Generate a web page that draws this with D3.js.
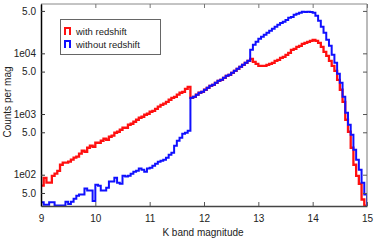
<!DOCTYPE html>
<html>
<head>
<meta charset="utf-8">
<script src="https://cdn.jsdelivr.net/npm/d3@7"></script>
<style>
  body { margin: 0; background: #fff; }
  text { font-family: "Liberation Sans", Arial, sans-serif; fill: #222; }
</style>
</head>
<body>
<div class="chart"></div>
<script>
var svgWidth = 374;
var svgHeight = 241;

var margin = { top: 4, right: 7, bottom: 35, left: 41 };
var width = svgWidth - margin.left - margin.right;
var height = svgHeight - margin.top - margin.bottom;

// histogram bins: 0.05 mag wide, starting at K = 9
var binStart = 9;
var binWidth = 0.05;

// counts per mag, with redshift
var withRedshift = [66, 89, 74, 74, 96, 104, 116, 146, 158, 158,
    164, 177, 191, 198, 222, 248, 239, 278, 300, 289,
    336, 336, 363, 391, 377, 422, 439, 491, 510, 551,
    594, 594, 665, 691, 746, 804, 868, 901, 972, 1010,
    1090, 1130, 1220, 1320, 1420, 1480, 1590, 1720, 1850, 1920,
    2080, 2240, 2320, 2600, 2810, 1850, 1920, 2080, 2240, 2320,
    2510, 2700, 2920, 3030, 3270, 3530, 3660, 3950, 4260, 4430,
    4780, 5150, 5560, 5990, 6470, 6980, 7520, 8120, 7250, 6720,
    6230, 6230, 6230, 6470, 6720, 6980, 7520, 7820, 8430, 8760,
    9450, 10190, 11420, 11860, 12790, 13290, 14340, 14890, 15470, 16060,
    16690, 16060, 14890, 12790, 10590, 9100, 7520, 6230, 5150, 3660,
    2510, 1590, 804, 510, 278, 146, 96, 71, 39, 31];

// counts per mag, without redshift
var withoutRedshift = [35, 32, 32, 35, 35, 31, 31, 31, 31, 36,
    33, 36, 40, 45, 47, 47, 59, 55, 55, 37,
    68, 66, 55, 55, 61, 77, 77, 89, 74, 71,
    96, 93, 96, 104, 112, 116, 126, 121, 112, 126,
    130, 141, 152, 164, 170, 177, 191, 213, 230, 300,
    363, 406, 473, 491, 530, 1850, 1920, 2080, 2240, 2320,
    2510, 2700, 2920, 3030, 3270, 3530, 3660, 3950, 4260, 4430,
    4780, 5150, 5560, 5990, 6470, 6980, 7520, 11420, 13800, 15470,
    17330, 18690, 20160, 21750, 23460, 25300, 27300, 29450, 31760, 32990,
    35590, 38400, 39880, 43030, 44690, 46420, 48220, 47800, 48500, 48000,
    46420, 41430, 34270, 27300, 21750, 16690, 13290, 9450, 6980, 4600,
    3270, 1920, 1050, 665, 455, 258, 177, 121, 74, 47];

var xTicks = [9, 10, 11, 12, 13, 14, 15];
var yTicks = [50, 100, 500, 1000, 5000, 10000, 50000];
var yTickLabels = ["5.0", "1e02", "5.0", "1e03", "5.0", "1e04", "5.0"];

var seriesNames = ["with redshift", "without redshift"];
var seriesColors = ["#ff1010", "#1010ff"];

var svg = d3.select(".chart")
    .append("svg")
    .attr("width", svgWidth)
    .attr("height", svgHeight);

var chartGroup = svg.append("g")
    .attr("transform", `translate(${margin.left}, ${margin.top})`);

var xScale = d3.scaleLinear()
    .domain([9, 15])
    .range([0, width]);

var yScale = d3.scaleLog()
    .domain([30.5, 65000])
    .range([height, 0]);

svg.append("defs").append("clipPath")
    .attr("id", "plotclip")
    .append("rect")
    .attr("x", 0)
    .attr("y", 0)
    .attr("width", width)
    .attr("height", height + 1);

function histPoints(counts) {
    var pts = counts.map(function(c, i) {
        return [binStart + i * binWidth, c];
    });
    pts.push([binStart + counts.length * binWidth, counts[counts.length - 1]]);
    pts.push([binStart + counts.length * binWidth, 1]);
    return pts;
}

var line = d3.line()
    .x(d => xScale(d[0]))
    .y(d => yScale(d[1]))
    .curve(d3.curveStepAfter);

var plot = chartGroup.append("g").attr("clip-path", "url(#plotclip)");

plot.append("path")
    .attr("d", line(histPoints(withRedshift)))
    .attr("fill", "none")
    .attr("stroke", seriesColors[0])
    .attr("stroke-width", 2.3);

plot.append("path")
    .attr("d", line(histPoints(withoutRedshift)))
    .attr("fill", "none")
    .attr("stroke", seriesColors[1])
    .attr("stroke-width", 2);

// frame
chartGroup.append("line")
    .attr("x1", 0).attr("x2", width).attr("y1", 0).attr("y2", 0)
    .attr("stroke", "#888").attr("stroke-width", 1);
chartGroup.append("line")
    .attr("x1", width).attr("x2", width).attr("y1", 0).attr("y2", height)
    .attr("stroke", "#777").attr("stroke-width", 1);

// bottom / top axes, ticks pointing inwards
var bottomAxis = d3.axisBottom(xScale).tickValues(xTicks).tickSizeInner(-4).tickSizeOuter(0).tickPadding(9)
    .tickFormat(d3.format("d"));
var topAxis = d3.axisTop(xScale).tickValues(xTicks).tickSize(-4).tickFormat("");
var leftAxis = d3.axisLeft(yScale).tickValues(yTicks).tickSizeInner(-4).tickSizeOuter(0).tickPadding(5)
    .tickFormat((d, i) => yTickLabels[i]);
var rightAxis = d3.axisRight(yScale).tickValues(yTicks).tickSize(-4).tickFormat("");

var gTop = chartGroup.append("g").call(topAxis);
gTop.select(".domain").remove();
gTop.selectAll(".tick line").attr("stroke", "#777");

var gRight = chartGroup.append("g")
    .attr("transform", `translate(${width}, 0)`)
    .call(rightAxis);
gRight.select(".domain").remove();
gRight.selectAll(".tick line").attr("stroke", "#555");

var gBottom = chartGroup.append("g")
    .attr("transform", `translate(0, ${height})`)
    .call(bottomAxis);
gBottom.select(".domain").attr("stroke", "#444").attr("stroke-width", 1.5);
gBottom.selectAll(".tick line").attr("stroke", "#555");
gBottom.selectAll("text").attr("font-size", "10px").attr("font-family", null);

var gLeft = chartGroup.append("g").call(leftAxis);
gLeft.select(".domain").attr("stroke", "#000").attr("stroke-width", 1.5);
gLeft.selectAll(".tick line").attr("stroke", "#333");
gLeft.selectAll("text").attr("font-size", "10px").attr("font-family", null);

// axis titles
svg.append("text")
    .attr("x", margin.left + width / 2 - 1)
    .attr("y", 236)
    .attr("text-anchor", "middle")
    .attr("font-size", "10px")
    .text("K band magnitude");

svg.append("text")
    .attr("transform", "translate(11, 102) rotate(-90)")
    .attr("text-anchor", "middle")
    .attr("font-size", "10px")
    .text("Counts per mag");

// legend
var legend = svg.append("g");
legend.append("rect")
    .attr("x", 60.5).attr("y", 19.5)
    .attr("width", 100).attr("height", 35)
    .attr("fill", "#fff")
    .attr("stroke", "#666")
    .attr("stroke-width", 1);

seriesNames.forEach(function(name, i) {
    var yb = 35 + i * 13;
    legend.append("path")
        .attr("d", `M65,${yb} V${yb - 7} H70 V${yb}`)
        .attr("fill", "none")
        .attr("stroke", seriesColors[i])
        .attr("stroke-width", 2);
    legend.append("text")
        .attr("x", 76)
        .attr("y", yb)
        .attr("font-size", "9.5px")
        .attr("fill", "#333")
        .text(name);
});
</script>
</body>
</html>
